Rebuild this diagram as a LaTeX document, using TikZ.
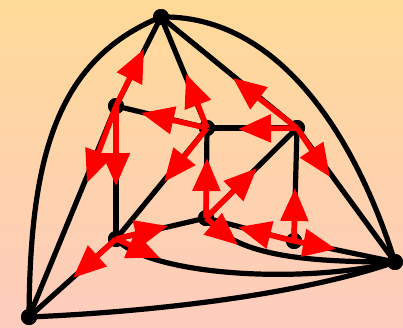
\documentclass[tikz,border=0pt]{standalone}
\usetikzlibrary{arrows.meta}
\definecolor{bgtop}{RGB}{254,218,152}
\definecolor{bgbot}{RGB}{254,204,190}
\begin{document}
\begin{tikzpicture}[x=1pt,y=-1pt,
  edge/.style={line width=5.2pt, black},
  vtx/.style={circle, fill=black, minimum size=16pt, inner sep=0pt},
  rarr/.style={line width=5.5pt, red, -{Triangle[length=33pt,width=27pt]}}]
\shade[top color=bgtop, bottom color=bgbot] (0,0) rectangle (403,327);
\useasboundingbox (0,0) rectangle (403,327);
% vertices
\node[vtx] (T) at (161,17) {};
\node[vtx] (L) at (29,317) {};
\node[vtx] (R) at (395,262) {};
\node[vtx] (A) at (116,106) {};
\node[vtx] (B) at (207,128) {};
\node[vtx] (C) at (297,128) {};
\node[vtx] (D) at (116,239) {};
\node[vtx] (E) at (206,218) {};
\node[vtx] (F) at (294,241) {};
% edges
\draw[edge] (T.center) .. controls (55,60) and (30,160) .. (L.center);
\draw[edge] (T.center) .. controls (270,15) and (350,120) .. (R.center);
\draw[edge] (L.center) .. controls (150,312) and (300,295) .. (R.center);
\draw[edge] (D.center) .. controls (150,275) and (300,285) .. (R.center);
\draw[edge] (E.center) .. controls (235,255) and (300,262) .. (R.center);
\draw[edge] (T.center) -- (A.center);
\draw[edge] (T.center) -- (B.center);
\draw[edge] (T.center) -- (C.center);
\draw[edge] (A.center) -- (L.center);
\draw[edge] (A.center) -- (D.center);
\draw[edge] (A.center) -- (B.center);
\draw[edge] (B.center) -- (C.center);
\draw[edge] (B.center) -- (E.center);
\draw[edge] (B.center) -- (D.center);
\draw[edge] (C.center) -- (E.center);
\draw[edge] (C.center) -- (F.center);
\draw[edge] (C.center) -- (R.center);
\draw[edge] (D.center) -- (E.center);
\draw[edge] (D.center) -- (L.center);
\draw[edge] (E.center) -- (F.center);
\draw[edge] (F.center) -- (R.center);
% redraw dots on top of edges
\foreach \v in {T,L,R,A,B,C,D,E,F} \fill (\v) circle (8pt);
% arrow tips
\coordinate (aT) at (144,49);
\coordinate (aL) at (87,183);
\coordinate (aD) at (116,186);
\coordinate (bA) at (141,113);
\coordinate (bT) at (186,74);
\coordinate (bD) at (164,182);
\coordinate (cB) at (238,129);
\coordinate (cT) at (233,78);
\coordinate (cR) at (330,177);
\coordinate (eB) at (207,158);
\coordinate (eC) at (257,168);
\coordinate (eR) at (238,245);
\coordinate (fC) at (295,188);
\coordinate (fE) at (238,227);
\coordinate (fR) at (336,249);
\coordinate (dL) at (73,278);
\coordinate (dE) at (168,226);
\coordinate (dR) at (160,258);
% red arrows
\draw[rarr] (A.center) -- (aT);
\draw[rarr] (A.center) -- (aL);
\draw[rarr] (A.center) -- (aD);
\draw[rarr] (B.center) -- (bA);
\draw[rarr] (B.center) -- (bT);
\draw[rarr] (B.center) -- (bD);
\draw[rarr] (C.center) -- (cB);
\draw[rarr] (C.center) -- (cT);
\draw[rarr] (C.center) -- (cR);
\draw[rarr] (E.center) -- (eB);
\draw[rarr] (E.center) -- (eC);
\draw[rarr] (E.center) -- (eR);
\draw[rarr] (F.center) -- (fC);
\draw[rarr] (F.center) -- (fE);
\draw[rarr] (F.center) -- (fR);
\draw[rarr] (D.center) -- (dL);
\draw[rarr] (D.center) -- (dE);
\draw[rarr] (D.center) -- (dR);
\end{tikzpicture}
\end{document}
